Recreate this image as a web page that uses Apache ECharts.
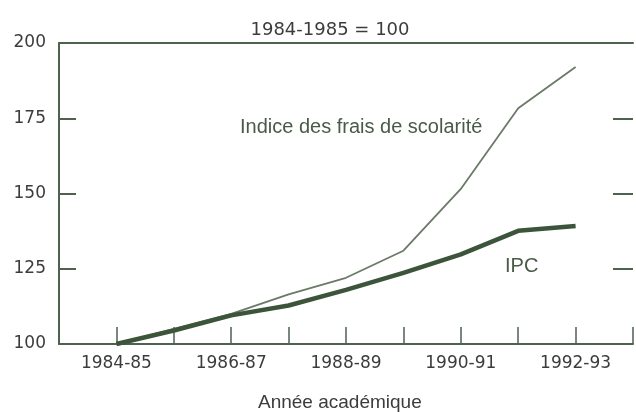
<!DOCTYPE html>
<html>
<head>
<meta charset="utf-8">
<script src="https://cdn.jsdelivr.net/npm/echarts@6/dist/echarts.min.js"></script>
<style>html,body{margin:0;padding:0;background:#fff;}#c{width:636px;height:412px;}</style>
</head>
<body>
<div id="c"></div>
<script>
const categories = ['1984-85','1985-86','1986-87','1987-88','1988-89','1989-90','1990-91','1991-92','1992-93'];
const tuitionIndex = [100, 105, 110, 116.5, 122, 131, 151.5, 178.3, 192];
const cpi = [100, 104.5, 109.5, 112.8, 118, 123.6, 129.8, 137.6, 139.2];
const yTicks = [100, 125, 150, 175, 200];

const axisColor = '#4f6250';
const textColor = '#3c3c3c';
const numFont = '"DejaVu Sans", sans-serif';
const wordFont = '"Liberation Sans", Arial, Helvetica, sans-serif';

const chart = echarts.init(document.getElementById('c'), null, {renderer: 'canvas'});
chart.setOption({
  animation: false,
  backgroundColor: '#ffffff',
  title: {
    text: '1984-1985 = 100',
    left: 325, top: 16, textAlign: 'center',
    textStyle: {fontFamily: numFont, fontSize: 18, fontWeight: 'normal', color: textColor}
  },
  grid: {left: 59, right: -6, top: 43, bottom: 68},
  xAxis: [{
    type: 'value', min: -1, max: 9, interval: 1,
    position: 'bottom',
    axisLine: {show: true, onZero: false, lineStyle: {color: axisColor, width: 2}},
    axisTick: {show: true, inside: true, length: 17, lineStyle: {color: axisColor, width: 1.5}},
    splitLine: {show: false},
    axisLabel: {
      margin: 11, fontFamily: numFont, fontSize: 17, color: textColor,
      formatter: function (v) { return (v >= 0 && v < categories.length && v % 2 === 0) ? categories[v] : ''; }
    }
  }, {
    type: 'value', min: -1, max: 9, position: 'top',
    axisLine: {show: true, onZero: false, lineStyle: {color: axisColor, width: 2}},
    axisTick: {show: false}, axisLabel: {show: false}, splitLine: {show: false}
  }],
  yAxis: [{
    type: 'value', min: yTicks[0], max: yTicks[yTicks.length - 1], interval: 25,
    position: 'left',
    axisLine: {show: true, onZero: false, lineStyle: {color: axisColor, width: 2}},
    axisTick: {show: true, inside: true, length: 17, lineStyle: {color: axisColor, width: 2}},
    splitLine: {show: false},
    axisLabel: {margin: 13, fontFamily: numFont, fontSize: 17, color: textColor}
  }, {
    type: 'value', min: yTicks[0], max: yTicks[yTicks.length - 1], interval: 25, position: 'right',
    axisLine: {show: false, onZero: false},
    axisTick: {show: true, inside: true, length: 20, lineStyle: {color: axisColor, width: 2}},
    axisLabel: {show: false}, splitLine: {show: false}
  }],
  series: [{
    name: 'Indice des frais de scolarité',
    type: 'line',
    data: tuitionIndex.map((v, i) => [i, v]),
    symbol: 'none',
    lineStyle: {color: '#6b7a68', width: 1.8},
    z: 3
  }, {
    name: 'IPC',
    type: 'line',
    data: cpi.map((v, i) => [i, v]),
    symbol: 'none',
    lineStyle: {color: '#3c553a', width: 4.5},
    z: 4
  }],
  graphic: [{
    type: 'text', left: 240, top: 117,
    style: {text: 'Indice des frais de scolarité', fontFamily: wordFont, fontSize: 20, fill: '#4a5a48'}
  }, {
    type: 'text', left: 505, top: 256,
    style: {text: 'IPC', fontFamily: wordFont, fontSize: 20, fill: '#4a5a48'}
  }, {
    type: 'text', left: 258, top: 393,
    style: {text: 'Année académique', fontFamily: wordFont, fontSize: 19, fill: textColor}
  }]
});
</script>
</body>
</html>
